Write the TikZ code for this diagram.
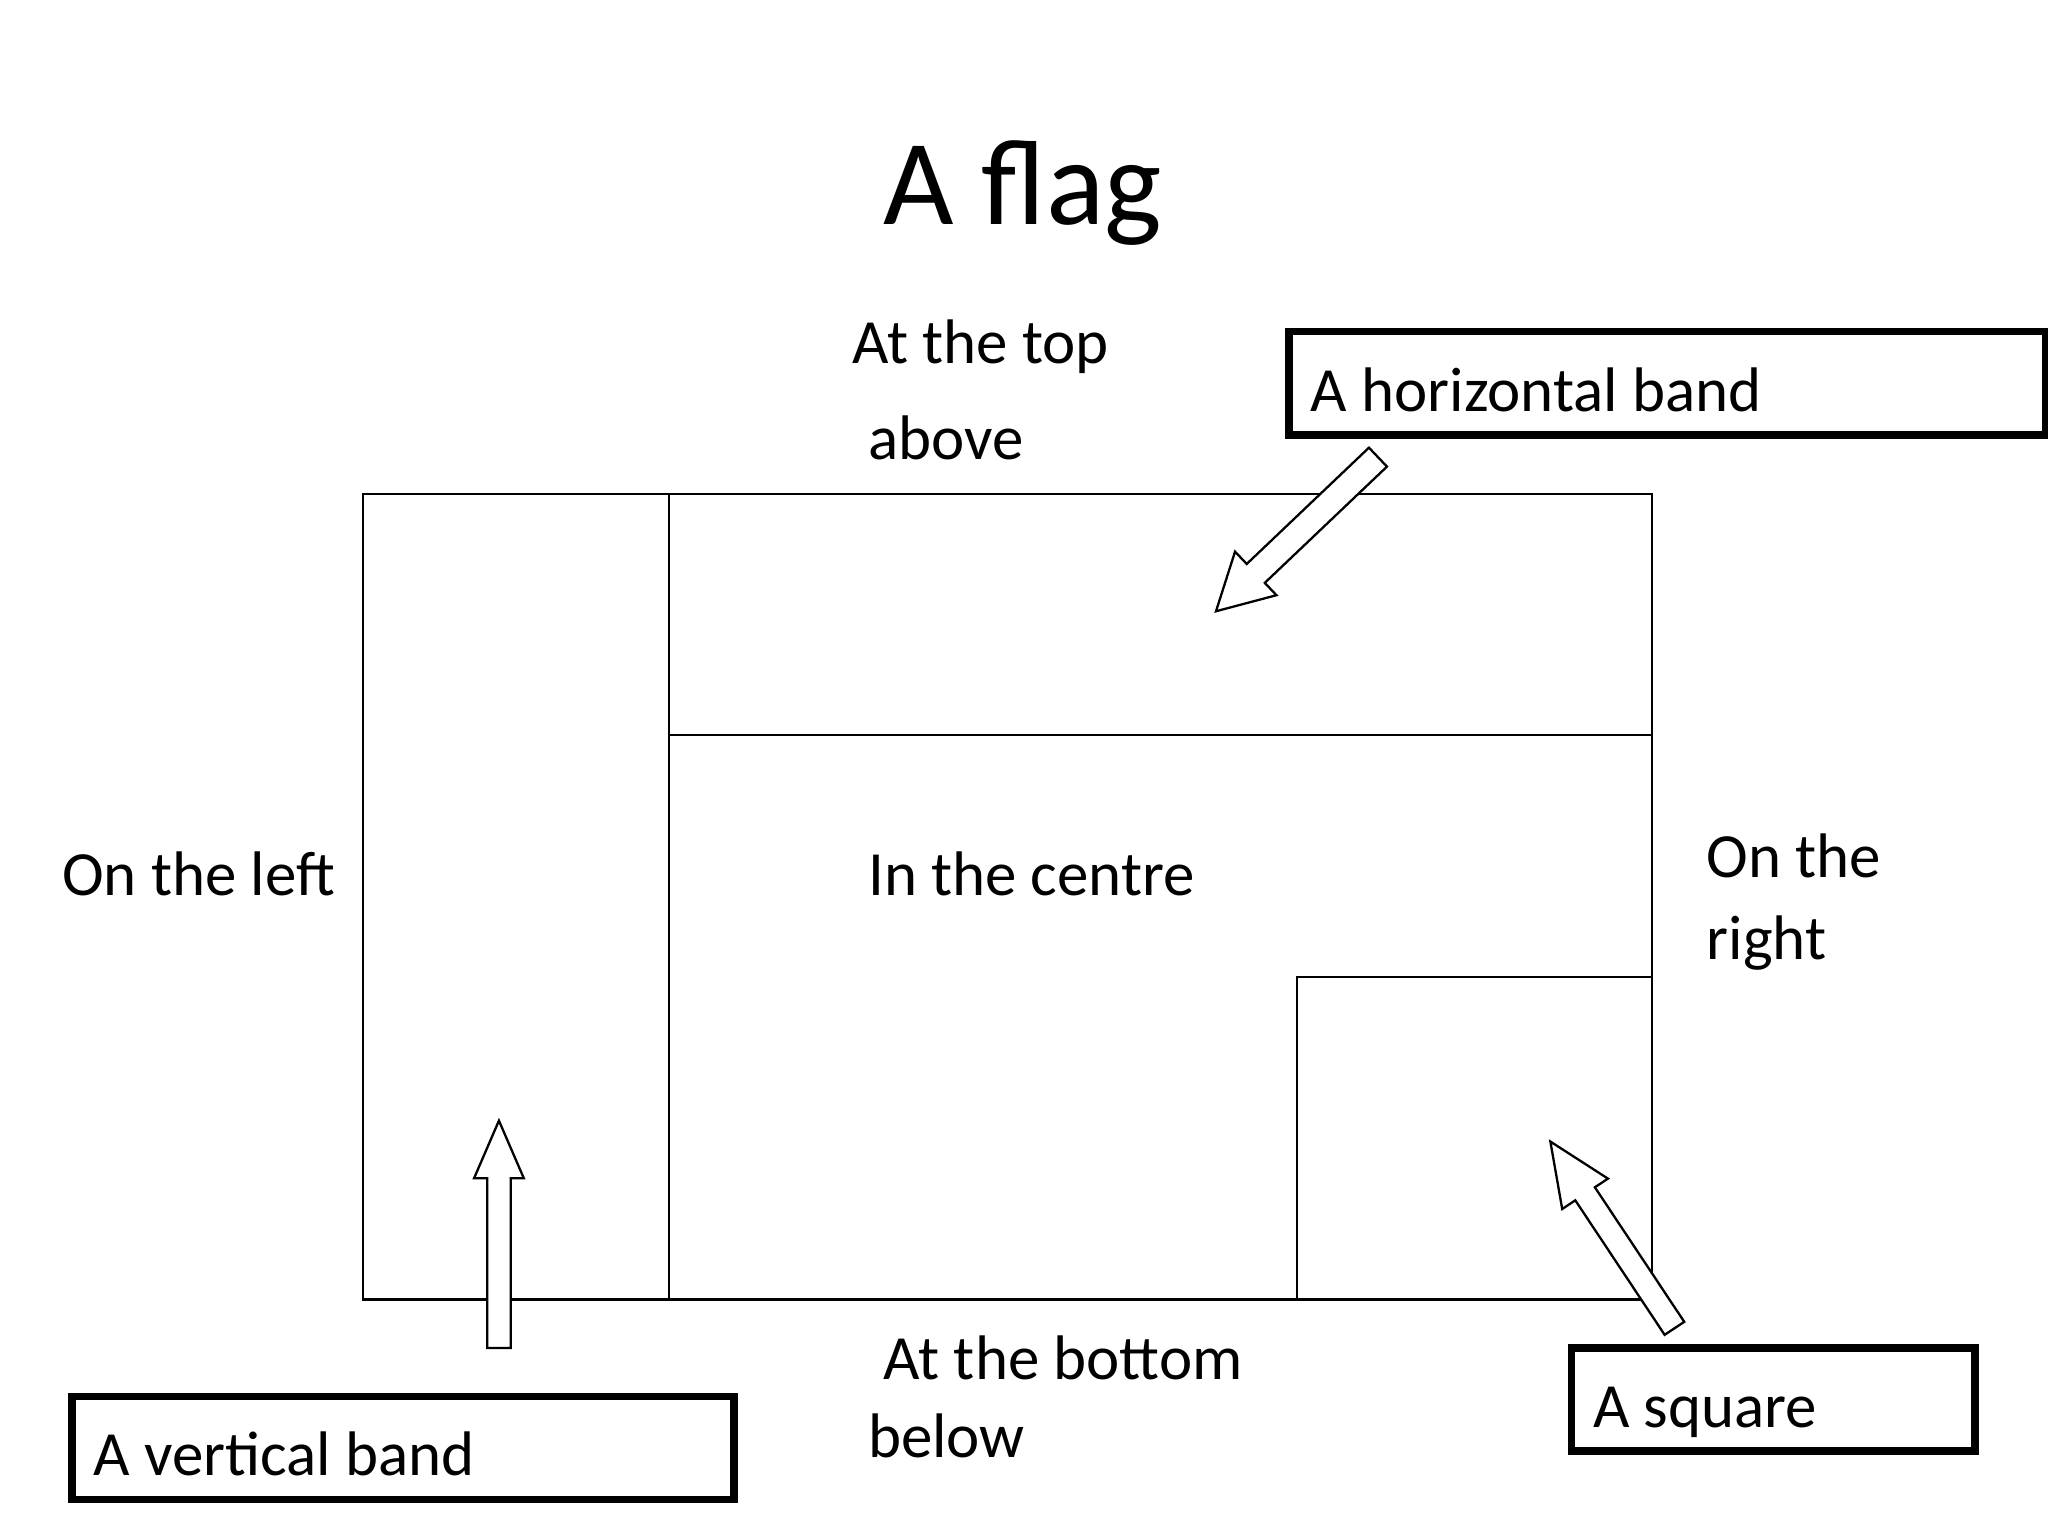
\documentclass[tikz,border=0pt]{standalone}
\usepackage{fontspec}
\setmainfont{Carlito}
\usetikzlibrary{calc}
\tikzset{lbl/.style={anchor=base west,inner sep=0pt,font=\fontsize{13.7pt}{16pt}\selectfont},
 bandline/.style={draw=black,line width=0.5pt},
 boxline/.style={draw=black,line width=1.6pt},
 arr/.style={draw=black,line width=0.5pt,fill=white}}
\newcommand\blockarr[5]{% tail, tip, shaft half, head half, head length (cm)
 \coordinate (hb) at ($(#2)!#5!(#1)$);
 \draw[arr] ($(#1)!#3!90:(#2)$) -- ($(hb)!#3!90:(#2)$) -- ($(hb)!#4!90:(#2)$) -- (#2)
  -- ($(hb)!#4!-90:(#2)$) -- ($(hb)!#3!-90:(#2)$) -- ($(#1)!#3!-90:(#2)$) -- cycle;}
\begin{document}
\begin{tikzpicture}[x=0.01cm,y=-0.01cm]
\useasboundingbox (0,0) rectangle (1568,1176);
\node[font=\fontsize{26.5pt}{30pt}\selectfont,inner sep=0pt] (title) at (783,148) {A flag};
% flag
\draw[bandline] (278,378) rectangle (1265,995);
\draw[bandline] (512,378) -- (512,995);
\draw[bandline] (512,563) -- (1265,563);
\draw[bandline] (993,995) -- (993,748) -- (1265,748);
% labels
\node[lbl] (top) at (652,278) {At the top};
\node[lbl] (above) at (664,352) {above};
\node[lbl] (left) at (47,686) {On the left};
\node[lbl] (centre) at (664,686) {In the centre};
\node[lbl] (right1) at (1306,672) {On the};
\node[lbl] (right2) at (1306,735) {right};
\node[lbl] (bottom) at (676,1056) {At the bottom};
\node[lbl] (below) at (664,1116) {below};
% boxes
\draw[boxline] (987,254) rectangle (1566,333);
\node[lbl] (hband) at (1003,315) {A horizontal band};
\draw[boxline] (55,1069) rectangle (562,1148);
\node[lbl] (vband) at (71,1130) {A vertical band};
\draw[boxline] (1203,1032) rectangle (1512,1111);
\node[lbl] (sq) at (1219,1093) {A square};
% arrows
\coordinate (t1) at (1055,350); \coordinate (p1) at (931,468);
\blockarr{t1}{p1}{0.10cm}{0.23cm}{0.42cm}
\coordinate (t2) at (382,1032); \coordinate (p2) at (382,858);
\blockarr{t2}{p2}{0.09cm}{0.19cm}{0.44cm}
\coordinate (t3) at (1282,1017); \coordinate (p3) at (1187,874);
\blockarr{t3}{p3}{0.09cm}{0.21cm}{0.48cm}
\end{tikzpicture}
\end{document}
